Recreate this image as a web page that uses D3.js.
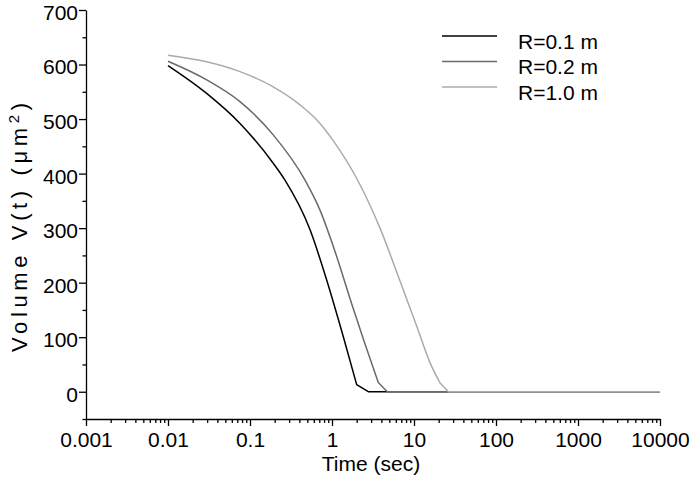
<!DOCTYPE html>
<html>
<head>
<meta charset="utf-8">
<script src="https://cdn.jsdelivr.net/npm/d3@7"></script>
<style>
  html, body { margin: 0; padding: 0; background: #fff; }
  svg { display: block; }
  text { font-family: "Liberation Sans", Arial, Helvetica, sans-serif; fill: #000; }
</style>
</head>
<body>
<svg id="chart" width="699" height="479"></svg>
<script>
// ---- data ----
const seriesNames = ["R=0.1 m", "R=0.2 m", "R=1.0 m"];
const seriesColors = ["#000000", "#6a6a6a", "#ababab"];

const timeR01 = [0.01, 0.0296, 0.0755, 0.192, 0.267, 0.54, 0.861, 1.41, 2.0, 2.77, 10000];
const volR01  = [598,  547,    492,    419,   388,   297,  205,   95,   13,  0,    0];

const timeR02 = [0.01, 0.0296, 0.0755, 0.192, 0.469, 0.714, 1.04, 1.82, 2.52, 3.67, 4.72, 10000];
const volR02  = [606,  572,    532,    471,   388,   333,   266,  152,  88,   17,   0,    0];

const timeR10 = [0.01, 0.0296, 0.0755, 0.192, 0.407, 0.714, 1.04, 2.19, 3.85, 6.75, 10.8, 15.7, 20.8, 26.2, 10000];
const volR10  = [617,  605,    587,    559,   526,   492,   460,  380,  300,  203,  120,  53,   16,   0,    0];

// index where each curve stops being smooth and becomes straight segments
const kneeIndex = [7, 8, 12];

const xTickValues = [0.001, 0.01, 0.1, 1, 10, 100, 1000, 10000];
const xTickLabels = ["0.001", "0.01", "0.1", "1", "10", "100", "1000", "10000"];
const yTickValues = [0, 100, 200, 300, 400, 500, 600, 700];
const yMinorValues = [-50, 50, 150, 250, 350, 450, 550, 650];

const xTitle = "Time (sec)";

// ---- layout ----
const svg = d3.select("#chart");
const padL = 86, padR = 660, padT = 10, padB = 419;
const fs = 21;

const x = d3.scaleLog().domain([0.001, 10000]).range([padL, padR]);
const y = d3.scaleLinear().domain([-50, 700]).range([padB, padT]);

// minor x ticks
const xMinor = [];
for (let e = -3; e < 4; e++) {
  for (let k = 2; k <= 9; k++) xMinor.push(k * Math.pow(10, e));
}

// x axis
const gx = svg.append("g").attr("transform", `translate(0,${padB})`);
gx.call(d3.axisBottom(x).tickValues(xMinor).tickSize(4).tickFormat(""))
  .call(g => g.select(".domain").remove());
gx.append("g").call(d3.axisBottom(x).tickValues(xTickValues).tickSize(7).tickSizeOuter(0)
    .tickPadding(6).tickFormat((d, i) => xTickLabels[i]))
  .call(g => g.selectAll("text").attr("font-size", fs).attr("fill", "#000")
      .attr("font-family", "Liberation Sans, Arial, sans-serif"));
gx.selectAll("line, path").attr("stroke", "#000").attr("stroke-width", 1.3);

// y axis
const gy = svg.append("g").attr("transform", `translate(${padL},0)`);
gy.call(d3.axisLeft(y).tickValues(yMinorValues).tickSize(3.5).tickFormat(""))
  .call(g => g.select(".domain").remove());
gy.append("g").call(d3.axisLeft(y).tickValues(yTickValues).tickSize(7).tickSizeOuter(0)
    .tickPadding(1).tickFormat(d3.format("d")))
  .call(g => g.selectAll("text").attr("font-size", fs).attr("fill", "#000")
      .attr("dy", "0.45em")
      .attr("font-family", "Liberation Sans, Arial, sans-serif"));
gy.selectAll("line, path").attr("stroke", "#000").attr("stroke-width", 1.3);

// axis titles
svg.append("text").attr("x", (padL + padR) / 2 - 2).attr("y", 471)
  .attr("text-anchor", "middle").attr("font-size", fs).text(xTitle);

// rotated y title, spread over the same extent as in the reference
const yt = svg.append("text")
  .attr("transform", `translate(27,0) rotate(-90)`)
  .attr("x", -352).attr("y", 0)
  .attr("font-size", 22)
  .attr("textLength", 249).attr("lengthAdjust", "spacing");
yt.append("tspan").text("Volume V(t) (\u03bcm");
yt.append("tspan").attr("font-size", 15).attr("dy", -8).text("2");
yt.append("tspan").attr("dy", 8).text(")");

// lines
const series = [
  { t: timeR01, v: volR01 },
  { t: timeR02, v: volR02 },
  { t: timeR10, v: volR10 }
];
const smooth = d3.line().x(d => x(d[0])).y(d => y(d[1])).curve(d3.curveMonotoneX);
const straight = d3.line().x(d => x(d[0])).y(d => y(d[1]));
series.forEach((s, i) => {
  const pts = s.t.map((t, j) => [t, s.v[j]]);
  const k = kneeIndex[i];
  const d = smooth(pts.slice(0, k + 1)) + straight(pts.slice(k)).replace(/^M/, "L");
  svg.append("path").attr("d", d)
    .attr("fill", "none").attr("stroke", seriesColors[i])
    .attr("stroke-width", 1.5).attr("stroke-linejoin", "round");
});

// legend
const legY = [36, 61.5, 87];
seriesNames.forEach((name, i) => {
  svg.append("line").attr("x1", 442).attr("x2", 497)
    .attr("y1", legY[i]).attr("y2", legY[i])
    .attr("stroke", seriesColors[i]).attr("stroke-width", 1.5);
  svg.append("text").attr("x", 518).attr("y", legY[i] + 12.5)
    .attr("font-size", fs).text(name);
});
</script>
</body>
</html>
